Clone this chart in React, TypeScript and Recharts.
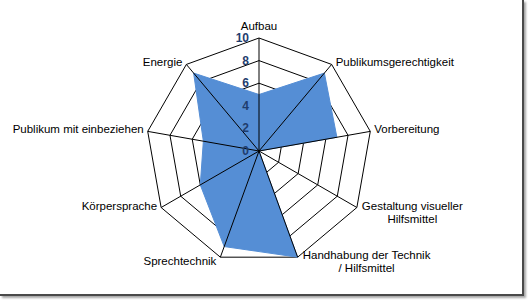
import React from "react";
import { RadarChart, Radar, PolarGrid, PolarAngleAxis, PolarRadiusAxis } from "recharts";

const categories = [
  "Aufbau",
  "Publikumsgerechtigkeit",
  "Vorbereitung",
  "Gestaltung visueller\nHilfsmittel",
  "Handhabung der Technik\n/ Hilfsmittel",
  "Sprechtechnik",
  "Körpersprache",
  "Publikum mit einbeziehen",
  "Energie",
];
const scores = [5, 9, 7, 0, 10, 9, 6, 5, 9];
const radiusTicks = [0, 2, 4, 6, 8, 10];

const data = categories.map((c, i) => ({ category: c, value: scores[i] }));

const FONT = "'Liberation Sans', Arial, sans-serif";
const FS = 11.5;

let ctx: CanvasRenderingContext2D | null = null;
function measure(t: string): number {
  if (!ctx) {
    const c = document.createElement("canvas");
    ctx = c.getContext("2d");
  }
  if (!ctx) return t.length * 6;
  ctx.font = `${FS}px 'Liberation Sans'`;
  return ctx.measureText(t).width;
}

const AngleTick = (props: any) => {
  const { payload, cx, cy, radius } = props;
  const ang = (payload.coordinate * Math.PI) / 180;
  const vx = cx + radius * Math.cos(ang);
  const vy = cy - radius * Math.sin(ang);
  const lines: string[] = String(payload.value).split("\n");
  const cos = Math.cos(ang);
  const lh = 13;
  let anchor: "start" | "middle" | "end" = "middle";
  let x = vx;
  let y0 = vy - 2;
  if (Math.abs(cos) < 0.1) {
    y0 = vy - 12;
  } else if (cos > 0) {
    if (lines.length > 1) {
      const w = Math.max(...lines.map(measure));
      anchor = "middle";
      x = vx + 5 + w / 2;
    } else {
      anchor = "start";
      x = vx + 4;
    }
  } else {
    anchor = "end";
    x = vx - 4;
  }
  if (vy > cy + radius * 0.9 && lines.length === 1) y0 = vy + 4;
  return (
    <g>
      <line x1={cx} y1={cy} x2={vx} y2={vy} stroke="#000" strokeWidth={1} />
      {lines.map((l, i) => (
        <text
          key={i}
          x={x}
          y={y0 + i * lh}
          textAnchor={anchor}
          dominantBaseline="central"
          fontFamily={FONT}
          fontSize={FS}
          fill="#000"
        >
          {l}
        </text>
      ))}
    </g>
  );
};

const RadiusTick = (props: any) => {
  const { x, y, payload } = props;
  return (
    <text
      x={x - 10}
      y={y}
      textAnchor="end"
      dominantBaseline="central"
      fontFamily={FONT}
      fontSize={12}
      fontWeight="bold"
      fill="#1F3D6E"
    >
      {payload.value}
    </text>
  );
};

export default function App() {
  return (
    <div style={{ position: "absolute", left: 0, top: 0, width: 528, height: 300, background: "#fff" }}>
      <div
        style={{
          position: "absolute",
          left: 0,
          top: 0,
          width: 522,
          height: 294,
          borderRight: "2px solid #4a4a4a",
          borderBottom: "2px solid #4a4a4a",
          boxShadow: "2px 2px 2px rgba(0,0,0,0.35)",
        }}
      />
      <div style={{ position: "absolute", left: 0, top: 0 }}>
        <RadarChart width={528} height={300} cx={259} cy={151} outerRadius={113} data={data}>
          <PolarGrid gridType="polygon" radialLines={false} stroke="#000" strokeOpacity={1} />
          <Radar
            dataKey="value"
            fill="#558ED5"
            fillOpacity={1}
            stroke="#558ED5"
            strokeWidth={1}
            isAnimationActive={false}
          />
          <PolarAngleAxis dataKey="category" tick={<AngleTick />} tickLine={false} axisLine={false} />
          <PolarRadiusAxis
            angle={90}
            domain={[0, 10]}
            ticks={radiusTicks as any}
            tickCount={6}
            axisLine={false}
            tick={<RadiusTick />}
          />
        </RadarChart>
      </div>
    </div>
  );
}
